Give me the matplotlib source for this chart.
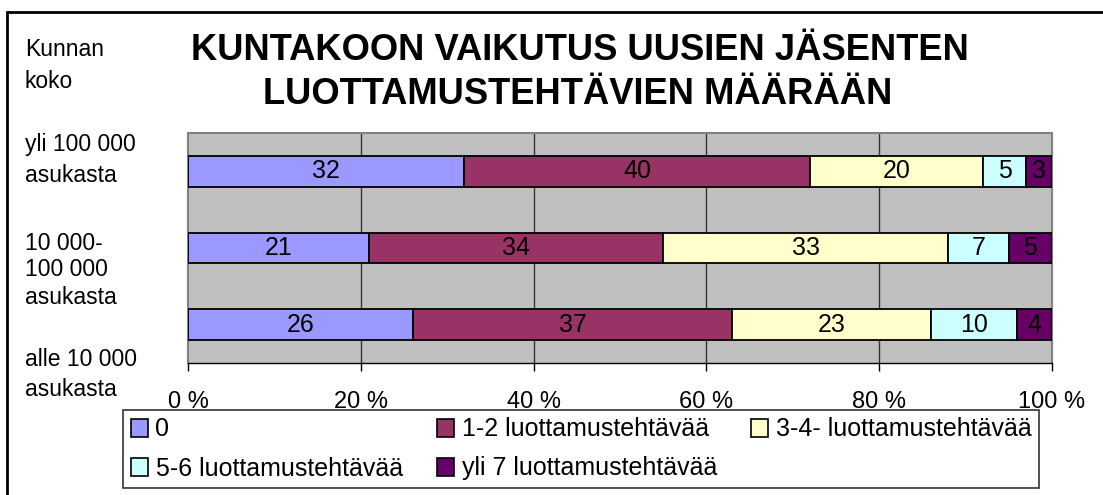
import matplotlib.pyplot as plt
from matplotlib.patches import Rectangle, Patch
import numpy as np

plt.rcParams['font.family'] = ['Liberation Sans', 'DejaVu Sans']

groups = ["alle 10 000 asukasta", "10 000-100 000 asukasta", "yli 100 000 asukasta"]
series = ["0", "1-2 luottamustehtävää", "3-4- luottamustehtävää",
          "5-6 luottamustehtävää", "yli 7 luottamustehtävää"]
values = [
    [26, 21, 32],   # 0
    [37, 34, 40],   # 1-2
    [23, 33, 20],   # 3-4
    [10, 7, 5],     # 5-6
    [4, 5, 3],      # yli 7
]
colors = ["#9999FF", "#993366", "#FFFFCC", "#CCFFFF", "#660066"]
xticks = [0, 20, 40, 60, 80, 100]
xticklabels = ["0 %", "20 %", "40 %", "60 %", "80 %", "100 %"]

W, H = 1103, 495
fig = plt.figure(figsize=(W / 100, H / 100), dpi=100)
fig.patch.set_facecolor("white")

# outer chart border
fig.patches.append(Rectangle((7 / W, -0.05), 1.2, 1 - 12 / H + 0.05, transform=fig.transFigure,
                             fill=False, edgecolor="black", linewidth=2, zorder=0))

ax = fig.add_axes([188 / W, 1 - 363 / H, (1052 - 188) / W, (363 - 133) / H])
ax.set_facecolor("#C0C0C0")

data = np.array(values, dtype=float)
totals = data.sum(axis=0)
pct = data / totals * 100
y = np.arange(len(groups))
left = np.zeros(len(groups))
for i, name in enumerate(series):
    ax.barh(y, pct[i], left=left, height=0.4, color=colors[i], edgecolor="black",
            linewidth=1.3, zorder=3, label=name)
    for j in range(len(groups)):
        ax.text(left[j] + pct[i][j] / 2, y[j], str(values[i][j]), ha="center", va="center",
                fontsize=18, color="black", zorder=4, clip_on=True)
    left += pct[i]

ax.set_xlim(0, 100)
ax.set_ylim(-0.5, 2.5)
ax.set_yticks([])
ax.set_xticks(xticks)
ax.set_xticklabels(xticklabels, fontsize=17)
ax.tick_params(axis="x", length=6, width=1, color="black", pad=14)
for x in xticks[1:-1]:
    ax.axvline(x, color="#333333", linewidth=1, zorder=1)
for s in ["left", "top", "right"]:
    ax.spines[s].set_color("#808080")
    ax.spines[s].set_linewidth(1.5)
ax.spines["bottom"].set_color("black")
ax.spines["bottom"].set_linewidth(1)

# titles and category labels
fig.text(580 / W, 1 - 50 / H, "KUNTAKOON VAIKUTUS UUSIEN JÄSENTEN", ha="center", va="center",
         fontsize=26.2, fontweight="bold")
fig.text(578 / W, 1 - 95 / H, "LUOTTAMUSTEHTÄVIEN MÄÄRÄÄN", ha="center", va="center",
         fontsize=26.2, fontweight="bold")

side = [("Kunnan", 50), ("koko", 82), ("yli 100 000", 145), ("asukasta", 175),
        ("10 000-", 243), ("100 000", 270), ("asukasta", 297),
        ("alle 10 000", 359), ("asukasta", 389)]
for txt, yy in side:
    fig.text(25 / W, 1 - yy / H, txt, ha="left", va="center", fontsize=16.5)

handles = [Patch(facecolor=c, edgecolor="black", linewidth=1.2) for c in colors]
order = [0, 3, 1, 4, 2]
leg = fig.legend([handles[k] for k in order], [series[k] for k in order], ncol=3,
                 loc="upper left", bbox_to_anchor=(123 / W, 1 - 410 / H, (1039 - 123) / W, 0.0),
                 mode="expand", fontsize=18, frameon=True, fancybox=False, handlelength=0.7,
                 handleheight=0.7, handletextpad=0.3, borderpad=0.3, labelspacing=0.6,
                 borderaxespad=0)
leg.get_frame().set_edgecolor("black")
leg.get_frame().set_linewidth(1.2)

fig.savefig("out.png", dpi=100)
